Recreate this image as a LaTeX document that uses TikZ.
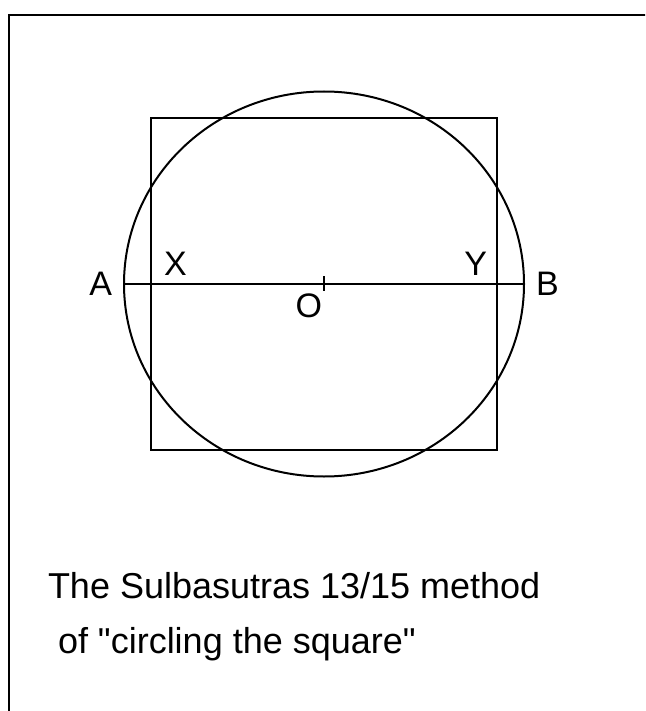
\documentclass[tikz,border=0pt]{standalone}
\usepackage{fontspec}
\setmainfont{Liberation Sans}
\usepackage{tikz}
\usetikzlibrary{positioning}

\tikzset{
    lbl/.style={inner sep=2pt, font=\fontsize{34}{40}\selectfont},
    caption/.style={inner sep=0pt, anchor=base west, font=\fontsize{36}{40}\selectfont}
}

\begin{document}
\begin{tikzpicture}[x=1pt,y=-1pt,line width=2pt]
        \useasboundingbox (0,0) rectangle (645,711);
        \clip (0,0) rectangle (645,711);
        % Frame (only left and top edges fall inside the page)
        \draw (9,720) -- (9,15) -- (660,15);

        % Points
        \coordinate (o) at (324,284);
        \coordinate (a) at (124,284);
        \coordinate (b) at (524,284);
        \coordinate (x) at (151,284);
        \coordinate (y) at (497,284);

        % Square and circle
        \draw (151,118) rectangle (497,450);
        \draw (o) ellipse [x radius=200pt, y radius=192.5pt];
        \draw (a) -- (b);
        \draw ([yshift=8pt]o) -- ([yshift=-7pt]o);

        % Labels
        \node (A) [lbl, left=9pt of a] {A};
        \node (B) [lbl, right=9pt of b] {B};
        \node (X) [lbl, above right=6pt and 10pt of x] {X};
        \node (Y) [lbl, above left=6pt and 7pt of y] {Y};
        \node (O) [lbl, below left=7pt and -1pt of o] {O};

        % Caption
        \node (cap1) [caption] at (47,598) {The Sulbasutras 13/15 method};
        \node (cap2) [caption] at (57,653) {of \textquotedbl circling the square\textquotedbl};

    \end{tikzpicture}
\end{document}
